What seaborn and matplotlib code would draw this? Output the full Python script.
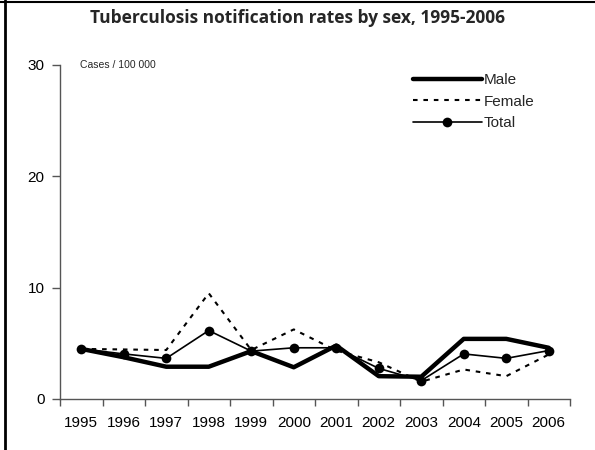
import matplotlib
matplotlib.use("Agg")
import matplotlib.pyplot as plt
import seaborn as sns
import pandas as pd
from matplotlib.lines import Line2D

years = ["1995", "1996", "1997", "1998", "1999", "2000", "2001", "2002", "2003", "2004", "2005", "2006"]
male = [4.5, 3.75, 2.9, 2.9, 4.3, 2.85, 4.8, 2.05, 2.0, 5.4, 5.4, 4.6]
female = [4.5, 4.45, 4.4, 9.5, 4.4, 6.25, 4.35, 3.3, 1.55, 2.65, 2.05, 4.0]
total = [4.5, 4.05, 3.65, 6.15, 4.3, 4.6, 4.6, 2.75, 1.65, 4.05, 3.65, 4.35]

sns.set_theme(style="white")
plt.rcParams['font.family'] = ['Liberation Sans', 'DejaVu Sans']

df = pd.DataFrame({"x": range(len(years)), "Male": male, "Female": female, "Total": total})

fig = plt.figure(figsize=(5.95, 4.5), dpi=100)
ax = fig.add_axes([60/595, 1-399/450, (570-60)/595, (399-65)/450])

sns.lineplot(data=df, x="x", y="Male", ax=ax, color="black", linewidth=3.2, label="Male")
sns.lineplot(data=df, x="x", y="Female", ax=ax, color="black", linewidth=1.5, label="Female")
ax.lines[-1].set_dashes((2.2, 2.8))
sns.lineplot(data=df, x="x", y="Total", ax=ax, color="black", linewidth=1.2, marker="o",
             markersize=7, markeredgewidth=0, label="Total")

ax.set_xlim(-0.5, len(years) - 0.5)
ax.set_ylim(0, 30)
ax.set_xlabel("")
ax.set_ylabel("")
ax.set_xticks(range(len(years)))
ax.set_xticklabels(years)
ax.set_xticks([i - 0.5 for i in range(len(years) + 1)], minor=True)
ax.tick_params(axis="x", which="major", length=0, pad=12, labelsize=11, labelcolor="black")
ax.tick_params(axis="x", which="minor", length=5, width=1, color="#555555", direction="out", bottom=True)
ax.set_yticks([0, 10, 20, 30])
ax.tick_params(axis="y", which="major", length=6, width=1, color="#555555", direction="out", left=True,
               labelsize=11, labelcolor="black", pad=5)
for s in ["top", "right"]:
    ax.spines[s].set_visible(False)
for s in ["left", "bottom"]:
    ax.spines[s].set_color("#555555")
    ax.spines[s].set_linewidth(1)

fig.text(80/595, 1-65/450, "Cases / 100 000", fontsize=7.5, va="center", ha="left")

leg = ax.legend(loc="upper left", bbox_to_anchor=(413/595, 1-73/450), bbox_transform=fig.transFigure,
                frameon=False, handlelength=4.5, handletextpad=0.1, fontsize=11, labelspacing=0.5,
                borderpad=0, borderaxespad=0)

fig.text(0.5, 1-18/450, "Tuberculosis notification rates by sex, 1995-2006", ha="center", va="center",
         fontsize=12.5, fontweight="bold", family=["Open Sans", "DejaVu Sans"])

fig.add_artist(Line2D([5/595, 5/595], [0, 1], transform=fig.transFigure, color="black", linewidth=2))
fig.add_artist(Line2D([0, 1], [1-1.5/450, 1-1.5/450], transform=fig.transFigure, color="black", linewidth=1.5))

fig.savefig("out.png", dpi=100)
